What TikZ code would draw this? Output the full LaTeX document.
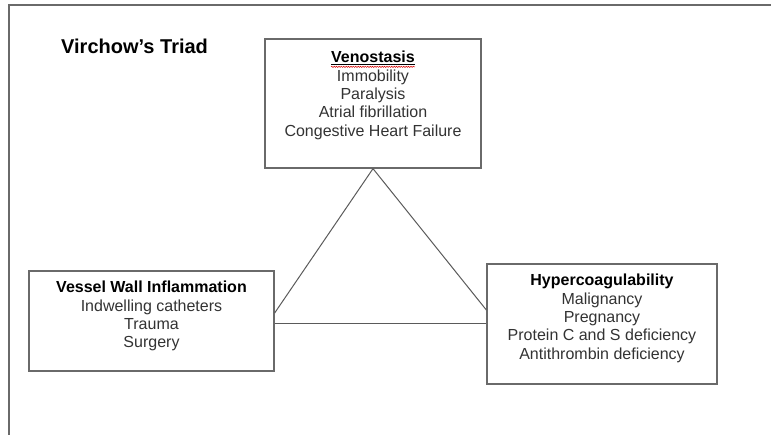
\documentclass[tikz,border=0pt]{standalone}
\usepackage{fontspec}
\setmainfont{Liberation Sans}
\usetikzlibrary{positioning, decorations.pathmorphing}

\definecolor{framegray}{HTML}{6A6A6A}
\definecolor{linegray}{HTML}{5A5A5A}
\definecolor{textgray}{HTML}{333333}

\begin{document}
\begin{tikzpicture}[
    x=1pt, y=1pt,
    every node/.style={font=\fontsize{16}{18.4}\selectfont},
    cause/.style={rectangle, draw=framegray, line width=1.3pt, fill=white, inner sep=0pt},
    heading/.style={inner sep=0pt, font=\fontsize{16}{18.4}\selectfont\bfseries, text=black},
    factors/.style={inner sep=0pt, align=center, text=textgray},
    link/.style={draw=linegray, line width=1pt},
    spell/.style={draw=red!85!black, line width=0.5pt, decorate, decoration={snake, amplitude=0.6pt, segment length=2.4pt}}
]
    \useasboundingbox (0,0) rectangle (771,-435);
    % Slide frame (only top and left edges are visible)
    \draw[framegray, line width=1.4pt] (9,-435) |- (771,-5);

    \node[anchor=base west, inner sep=0pt, font=\fontsize{20}{24}\selectfont\bfseries] (title) at (61,-53.3) {Virchow’s Triad};

    % The three boxes of the triad
    \node[cause, minimum width=216pt, minimum height=129pt] (veno) at (373,-103.5) {};
    \node[cause, minimum width=245pt, minimum height=100pt] (vessel) at (151.5,-321) {};
    \node[cause, minimum width=230pt, minimum height=120pt] (hyper) at (602,-324) {};

    % Headings (baseline placed below the box top)
    \node[heading, below=24pt of veno.north, anchor=base] (venohead) {\underline{Venostasis}};
    \node[heading, below=22pt of vessel.north, anchor=base] (vesselhead) {Vessel Wall Inflammation};
    \node[heading, below=22pt of hyper.north, anchor=base] (hyperhead) {Hypercoagulability};

    % Risk factors
    \node[factors, below=5.6pt of venohead.base] (venolist) {\strut Immobility\\Paralysis\\Atrial fibrillation\\Congestive Heart Failure};
    \node[factors, below=5.6pt of vesselhead.base] (vessellist) {\strut Indwelling catheters\\Trauma\\Surgery};
    \node[factors, below=5.6pt of hyperhead.base] (hyperlist) {\strut Malignancy\\Pregnancy\\Protein C and S deficiency\\Antithrombin deficiency};

    % spell-check squiggle
    \draw[spell] ([yshift=-4.5pt]venohead.base west) -- ([yshift=-4.5pt]venohead.base east);

    % Triangle
    \draw[link] (veno.south) -- ([yshift=8pt]vessel.east);
    \draw[link] (veno.south) -- ([yshift=14pt]hyper.west);
    \draw[link] (vessel.east |- hyper.west) -- (hyper.west);
\end{tikzpicture}
\end{document}
